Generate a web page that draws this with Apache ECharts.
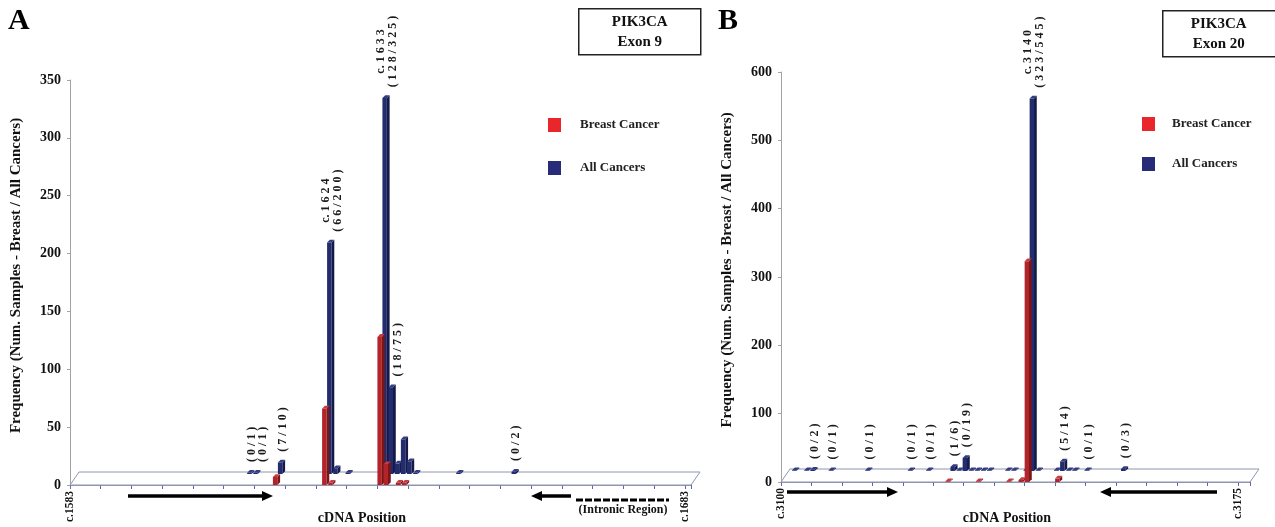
<!DOCTYPE html>
<html>
<head>
<meta charset="utf-8">
<title>PIK3CA exon 9 / exon 20</title>
<script src="https://cdn.jsdelivr.net/npm/echarts@6/dist/echarts.min.js"></script>
<style>
  html, body { margin: 0; padding: 0; background: #fff; }
  #chart { width: 1275px; height: 527px; }
</style>
</head>
<body>
<div id="chart"></div>
<script>
const serif = 'Liberation Serif'

// panel A: PIK3CA exon 9 (cDNA positions)
const exon9First = 1583
const exon9Span = 101
const exon9Pos = [1611, 1612, 1616, 1624, 1625, 1627, 1633, 1634, 1635, 1636, 1637, 1638, 1645, 1654]
const exon9Breast = [0, 0, 7, 66, 2, 0, 128, 18, 0, 2, 2, 0, 0, 0]
const exon9All = [1, 1, 10, 200, 5, 1, 325, 75, 9, 30, 11, 1, 1, 2]
const exon9Notes = ['(0/1)', '(0/1)', '(7/10)', 'c.1624\n(66/200)', '', '', 'c.1633\n(128/325)', '(18/75)', '', '', '', '', '', '(0/2)']
const exon9TickPos = [1583, 1683]
const exon9TickText = ['c.1583', 'c.1683']

// panel B: PIK3CA exon 20
const exon20First = 3100
const exon20Span = 77
const exon20Pos = [3101, 3103, 3104, 3107, 3113, 3120, 3123, 3127, 3128, 3129, 3130, 3131, 3132, 3133, 3136, 3137, 3139, 3140, 3141, 3144, 3145, 3146, 3147, 3149, 3155]
const exon20Breast = [0, 0, 0, 0, 0, 0, 0, 1, 0, 0, 0, 0, 1, 0, 0, 1, 3, 323, 0, 0, 5, 0, 0, 0, 0]
const exon20All = [1, 1, 2, 1, 1, 1, 1, 6, 1, 19, 1, 1, 1, 1, 1, 1, 1, 545, 1, 1, 14, 1, 1, 1, 3]
const exon20Notes = ['', '', '(0/2)', '(0/1)', '(0/1)', '(0/1)', '(0/1)', '(1/6)', '', '(0/19)', '', '', '', '', '', '', '', 'c.3140\n(323/545)', '', '', '(5/14)', '', '', '(0/1)', '(0/3)']
const exon20TickPos = [3100, 3175]
const exon20TickText = ['c.3100', 'c.3175']

const redFaces = ['#b3242a', '#7a1518', '#c43c40']
const blueFaces = ['#232c6f', '#141a48', '#323c84']
const backShift = [5, -11]   // blue row sits behind the red one
const floorDepth = [9, -13]
const noteSize = 12

let measure = document.createElement('canvas').getContext('2d')

function spread (s) {
  // the figure spaces every character of the notes
  return s.split('\n').map(l => l.split('').join(' ').replace('c .', 'c.'))
}

function rows (pos, first, vals, keepZero) {
  let out = []
  pos.forEach((p, k) => {
    if (keepZero || vals[k] > 0) out.push([p - first, vals[k]])
  })
  return out
}

// 3d column: front face, right side, top
function bars (faces, notes, shift) {
  let lastX = -1e9
  return function (params, api) {
    if (params.dataIndex === 0) lastX = -1e9
    let i = api.value(0)
    let base = api.coord([i, 0])
    let top = api.coord([i, api.value(1)])
    let w = api.size([1, 0])[0]
    let fw = w * 0.72
    let d = w * 0.45
    let x = base[0] + shift[0]
    let yb = base[1] + shift[1]
    let yt = top[1] + shift[1]
    let kids = [
      { type: 'rect', shape: { x: x, y: yt, width: fw, height: yb - yt }, style: { fill: faces[0] } },
      { type: 'polygon', shape: { points: [[x + fw, yt], [x + fw + d, yt - d], [x + fw + d, yb - d], [x + fw, yb]] }, style: { fill: faces[1] } },
      { type: 'polygon', shape: { points: [[x, yt], [x + d, yt - d], [x + fw + d, yt - d], [x + fw, yt]] }, style: { fill: faces[2] } }
    ]
    let note = notes && notes[params.dataIndex]
    if (note) {
      let lines = spread(note)
      measure.font = 'bold ' + noteSize + 'px "Liberation Serif"'
      let len = Math.max(...lines.map(l => measure.measureText(l).width))
      let nx = Math.max(x + (fw + d) / 2 + 1, lastX + 11)  // neighbours side by side
      lastX = nx
      kids.push({
        type: 'text',
        x: nx,
        y: yt - d - 8 - len / 2,
        rotation: Math.PI / 2,
        style: {
          text: lines.join('\n'), fontSize: noteSize, fontWeight: 'bold', fontFamily: serif,
          fill: '#1a1a1a', align: 'center', verticalAlign: 'middle', lineHeight: 12
        }
      })
    }
    return { type: 'group', children: kids }
  }
}

function floor (span) {
  return function (params, api) {
    let a = api.coord([0, 0])
    let b = api.coord([span, 0])
    return {
      type: 'polygon',
      shape: { points: [a, b, [b[0] + floorDepth[0], b[1] + floorDepth[1]], [a[0] + floorDepth[0], a[1] + floorDepth[1]]] },
      style: { fill: '#fff', stroke: '#8f96ad', lineWidth: 1 }
    }
  }
}

function xAxisFor (idx, span, first, tickPos, tickText) {
  return {
    type: 'value', gridIndex: idx, min: 0, max: span, interval: 5,
    axisLine: { lineStyle: { color: '#8f96ad' } },
    axisTick: { length: 4, lineStyle: { color: '#5a6aa8' } },
    splitLine: { show: false },
    axisLabel: {
      rotate: 90, margin: 6, fontSize: 11.5, fontWeight: 'bold', fontFamily: serif, color: '#111',
      formatter: v => {
        let k = tickPos.indexOf(v + first)
        return k < 0 ? '' : tickText[k]
      }
    }
  }
}

function yAxisFor (idx, max, step) {
  return {
    type: 'value', gridIndex: idx, min: 0, max: max, interval: step,
    axisLine: { show: true, lineStyle: { color: '#a3a3a3' } },
    axisTick: { show: true, length: 3, lineStyle: { color: '#a3a3a3' } },
    splitLine: { show: false },
    axisLabel: { margin: 9, fontSize: 14, fontWeight: 'bold', fontFamily: serif, color: '#111' },
    name: 'Frequency (Num. Samples - Breast / All Cancers)',
    nameLocation: 'middle', nameGap: 46,
    nameTextStyle: { fontSize: 15, fontWeight: 'bold', fontFamily: serif, color: '#111', padding: [0, 0, 0, 14] }
  }
}

function legendFor (left, top, gap, pad) {
  return {
    data: ['Breast Cancer', 'All Cancers'], orient: 'vertical', left: left, top: top,
    itemWidth: 13, itemHeight: 14, itemGap: gap, icon: 'rect',
    textStyle: { fontSize: 13, fontWeight: 'bold', fontFamily: serif, color: '#222', padding: [0, 0, 0, pad] }
  }
}

function arrow (x1, x2, y) {
  // head at x2
  let dir = x2 > x1 ? 1 : -1
  let neck = x2 - dir * 11
  return [
    { type: 'line', shape: { x1: x1, y1: y, x2: neck, y2: y }, style: { stroke: '#000', lineWidth: 3.5 } },
    { type: 'polygon', shape: { points: [[neck, y - 5], [x2, y], [neck, y + 5]] }, style: { fill: '#000' } }
  ]
}

function panelBox (left, top, w, textX, label) {
  return {
    type: 'group', left: left, top: top,
    children: [
      { type: 'rect', shape: { x: 0, y: 0, width: w, height: 46 }, style: { fill: '#fff', stroke: '#222', lineWidth: 1.5 } },
      {
        type: 'text', x: textX, y: 23,
        style: { text: label, align: 'center', verticalAlign: 'middle', fontSize: 15, fontWeight: 'bold', fontFamily: serif, fill: '#111', lineHeight: 20 }
      }
    ]
  }
}

function caption (cx, cy, text, size) {
  return {
    type: 'text', x: cx, y: cy,
    style: { text: text, align: 'center', verticalAlign: 'middle', fontSize: size, fontWeight: 'bold', fontFamily: serif, fill: '#111' }
  }
}

let chart = echarts.init(document.getElementById('chart'))

let option = {
  animation: false,
  grid: [
    { left: 70, top: 80, width: 621, height: 405, outerBoundsMode: 'none' },
    { left: 781, top: 72, width: 469, height: 410, outerBoundsMode: 'none' }
  ],
  xAxis: [
    xAxisFor(0, exon9Span, exon9First, exon9TickPos, exon9TickText),
    xAxisFor(1, exon20Span, exon20First, exon20TickPos, exon20TickText)
  ],
  yAxis: [yAxisFor(0, 350, 50), yAxisFor(1, 600, 100)],
  legend: [legendFor(543, 113, 29, 14), legendFor(1137, 112, 26, 12)],
  series: [
    { type: 'custom', xAxisIndex: 0, yAxisIndex: 0, silent: true, z: 1, data: [[0, 0]], renderItem: floor(exon9Span) },
    {
      name: 'All Cancers', type: 'custom', xAxisIndex: 0, yAxisIndex: 0, z: 2,
      itemStyle: { color: '#282c78' }, encode: { x: 0, y: 1 },
      data: rows(exon9Pos, exon9First, exon9All, true), renderItem: bars(blueFaces, exon9Notes, backShift)
    },
    {
      name: 'Breast Cancer', type: 'custom', xAxisIndex: 0, yAxisIndex: 0, z: 3,
      itemStyle: { color: '#e8262b' }, encode: { x: 0, y: 1 },
      data: rows(exon9Pos, exon9First, exon9Breast, false), renderItem: bars(redFaces, null, [0, 0])
    },
    { type: 'custom', xAxisIndex: 1, yAxisIndex: 1, silent: true, z: 1, data: [[0, 0]], renderItem: floor(exon20Span) },
    {
      name: 'All Cancers', type: 'custom', xAxisIndex: 1, yAxisIndex: 1, z: 2,
      itemStyle: { color: '#282c78' }, encode: { x: 0, y: 1 },
      data: rows(exon20Pos, exon20First, exon20All, true), renderItem: bars(blueFaces, exon20Notes, backShift)
    },
    {
      name: 'Breast Cancer', type: 'custom', xAxisIndex: 1, yAxisIndex: 1, z: 3,
      itemStyle: { color: '#e8262b' }, encode: { x: 0, y: 1 },
      data: rows(exon20Pos, exon20First, exon20Breast, false), renderItem: bars(redFaces, null, [0, 0])
    }
  ],
  graphic: [
    { type: 'text', left: 8, top: 6, style: { text: 'A', fontSize: 30, fontWeight: 'bold', fontFamily: serif, fill: '#000' } },
    { type: 'text', left: 718, top: 6, style: { text: 'B', fontSize: 30, fontWeight: 'bold', fontFamily: serif, fill: '#000' } },
    panelBox(578, 8, 122, 61, 'PIK3CA\nExon 9'),
    panelBox(1162, 10, 122, 56, 'PIK3CA\nExon 20'),
    caption(362, 518, 'cDNA Position', 14),
    caption(1007, 518, 'cDNA Position', 14),
    ...arrow(128, 273, 496),
    ...arrow(571, 531, 496),
    { type: 'line', shape: { x1: 576, y1: 500, x2: 669, y2: 500 }, style: { stroke: '#000', lineWidth: 3, lineDash: [7, 2] } },
    caption(623, 510, '(Intronic Region)', 12),
    ...arrow(787, 898, 492),
    ...arrow(1217, 1100, 492)
  ]
}

chart.setOption(option)
</script>
</body>
</html>
